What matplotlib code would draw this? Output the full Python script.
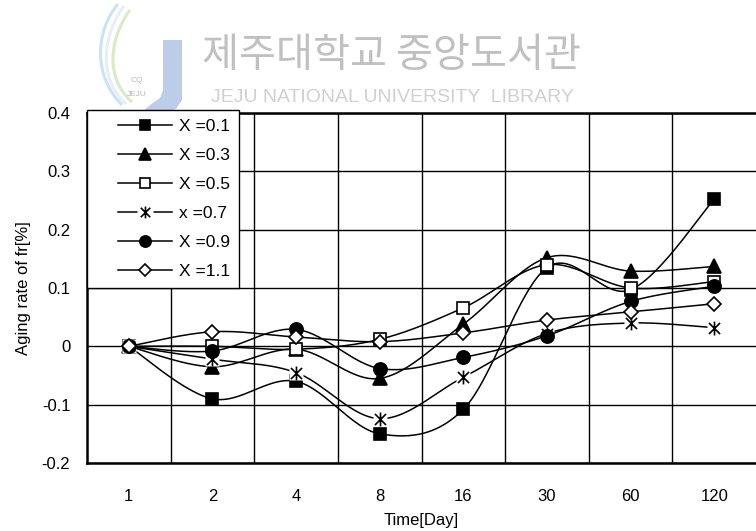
import matplotlib
matplotlib.use('Agg')
import matplotlib.pyplot as plt
import numpy as np
from matplotlib.path import Path
from matplotlib.patches import PathPatch
from matplotlib.lines import Line2D
from matplotlib.legend_handler import HandlerLine2D, HandlerTuple

plt.rcParams['font.family'] = ['Liberation Sans', 'DejaVu Sans']

# days of ageing (categories) and aging rate of fr [%] for each composition
days = ['1', '2', '4', '8', '16', '30', '60', '120']
x01 = [0, -0.090, -0.060, -0.150, -0.108, 0.135, 0.097, 0.252]
x03 = [0, -0.035, -0.005, -0.055, 0.038, 0.152, 0.129, 0.137]
x05 = [0, 0.000, -0.005, 0.012, 0.066, 0.140, 0.100, 0.111]
x07 = [0, -0.022, -0.045, -0.124, -0.053, 0.022, 0.040, 0.032]
x09 = [0, -0.008, 0.029, -0.038, -0.019, 0.018, 0.077, 0.103]
x11 = [0, 0.025, 0.016, 0.008, 0.023, 0.045, 0.059, 0.073]
labels = ['X =0.1', 'X =0.3', 'X =0.5', 'x =0.7', 'X =0.9', 'X =1.1']
y_ticks = [0.4, 0.3, 0.2, 0.1, 0, -0.1, -0.2]
y_ticklabels = ['0.4', '0.3', '0.2', '0.1', '0', '-0.1', '-0.2']


def smooth(xs, ys, n=30):
    # smoothed line through the points (cubic bezier, catmull-rom style)
    P = np.column_stack([xs, ys]).astype(float)
    out = []
    for i in range(len(P) - 1):
        p0 = P[max(i - 1, 0)]
        p1 = P[i]
        p2 = P[i + 1]
        p3 = P[min(i + 2, len(P) - 1)]
        c1 = p1 + (p2 - p0) / 6
        c2 = p2 - (p3 - p1) / 6
        t = np.linspace(0, 1, n)[:, None]
        seg = (1 - t)**3 * p1 + 3 * (1 - t)**2 * t * c1 + 3 * (1 - t) * t**2 * c2 + t**3 * p2
        out.append(seg if i == 0 else seg[1:])
    return np.vstack(out)


# asterisk marker: vertical bar plus an X
star = Path([(0, -1), (0, 1), (-0.8, -0.8), (0.8, 0.8), (-0.8, 0.8), (0.8, -0.8)],
            [Path.MOVETO, Path.LINETO] * 3)

W, H = 756, 531
fig = plt.figure(figsize=(W / 100, H / 100), dpi=100)

# watermark layer in pixel coordinates
wm = fig.add_axes([0, 0, 1, 1], zorder=0)
wm.set_xlim(0, W)
wm.set_ylim(H, 0)
wm.axis('off')
j_shape = Path([(163, 40), (182, 40), (182, 100), (176, 109), (162, 114), (140, 114),
                (150, 105), (160, 98), (163, 90), (163, 40)])
wm.add_patch(PathPatch(j_shape, facecolor='#bccde9', edgecolor='none'))
swoosh1 = Path([(118, 4), (96, 30), (92, 75), (122, 105)],
               [Path.MOVETO, Path.CURVE4, Path.CURVE4, Path.CURVE4])
swoosh2 = Path([(130, 10), (108, 40), (106, 80), (132, 102)],
               [Path.MOVETO, Path.CURVE4, Path.CURVE4, Path.CURVE4])
swoosh3 = Path([(124, 6), (102, 36), (98, 78), (126, 104)],
               [Path.MOVETO, Path.CURVE4, Path.CURVE4, Path.CURVE4])
wm.add_patch(PathPatch(swoosh1, facecolor='none', edgecolor='#c8e4f2', lw=2.2))
wm.add_patch(PathPatch(swoosh3, facecolor='none', edgecolor='#e8eef5', lw=2.2))
wm.add_patch(PathPatch(swoosh2, facecolor='none', edgecolor='#d9ebc6', lw=2.2))
wm.text(137, 80, 'CQ', fontsize=6, color='#b8b8b8', ha='center', va='center')
wm.text(137, 95, 'JEJU', fontsize=6, color='#b8b8b8', ha='center', va='center')
wm.text(391, 55, '제주대학교 중앙도서관', fontsize=29, color='#c0c0c0',
        family=['Noto Sans CJK KR', 'DejaVu Sans'], ha='center', va='center')
wm.text(392, 97, 'JEJU NATIONAL UNIVERSITY  LIBRARY', fontsize=14, color='#d0d0d0',
        ha='center', va='center')

ax = fig.add_axes([87 / W, 1 - 463 / H, (W - 87) / W, 350 / H], zorder=2)
ax.set_facecolor('white')

x = np.arange(len(days))
series = [x01, x03, x05, x07, x09, x11]
styles = [
    dict(marker='s', markersize=9, markerfacecolor='black'),
    dict(marker='^', markersize=9.5, markerfacecolor='black'),
    dict(marker='s', markersize=9, markerfacecolor='white'),
    dict(marker=star, markersize=10, markerfacecolor='none'),
    dict(marker='o', markersize=9.5, markerfacecolor='black'),
    dict(marker='D', markersize=7.5, markerfacecolor='white'),
]

handles = []
for k, (ys, st) in enumerate(zip(series, styles)):
    curve = smooth(x, ys)
    ax.plot(curve[:, 0], curve[:, 1], color='black', lw=1.1, zorder=3 + 2 * k)
    if st['marker'] is star:
        # white patch behind the asterisk breaks the lines under it
        ax.plot(x, ys, ls='none', marker='s', markersize=10, markerfacecolor='white',
                markeredgecolor='none', zorder=4 + 2 * k)
    ax.plot(x, ys, ls='none', markeredgecolor='black', markeredgewidth=1.2,
            zorder=4 + 2 * k, **st)
    # legend symbols are drawn a little smaller
    lst = dict(st)
    lst['markersize'] = st['markersize'] * 0.85
    h = Line2D([], [], color='black', lw=1.1, markeredgecolor='black',
               markeredgewidth=1.2, **lst)
    if st['marker'] is star:
        back = Line2D([], [], color='black', lw=1.1, marker='s', markersize=11,
                      markerfacecolor='white', markeredgecolor='none')
        h = (back, Line2D([], [], ls='none', markeredgecolor='black',
                          markeredgewidth=1.2, **lst))
    handles.append(h)

ax.set_xlim(-0.5, len(days) - 0.5)
ax.set_ylim(-0.2, 0.4)
ax.set_xticks(x)
ax.set_xticklabels(days)
ax.set_yticks(y_ticks)
ax.set_yticklabels(y_ticklabels)
ax.set_xticks(np.arange(len(days) - 1) + 0.5, minor=True)
ax.tick_params(which='both', length=0, labelsize=12)
ax.tick_params(axis='x', pad=19)
ax.tick_params(axis='y', pad=12)
ax.grid(True, axis='y', which='major', color='black', lw=1)
ax.grid(True, axis='x', which='minor', color='black', lw=1)
ax.set_axisbelow(True)
for side in ['left', 'top', 'bottom']:
    ax.spines[side].set_linewidth(1.8)
ax.spines['right'].set_visible(False)

ax.set_xlabel('Time[Day]', fontsize=12)
ax.xaxis.set_label_coords(0.5, -0.143)
ax.set_ylabel('Aging rate of fr[%]', fontsize=12)
ax.yaxis.set_label_coords(-0.083, 0.5)

leg = ax.legend(handles, labels, loc='upper left', bbox_to_anchor=(0, 1.008),
                borderaxespad=0, fontsize=12.5, handlelength=4.4, handletextpad=0.4,
                labelspacing=0.8, borderpad=0.5, fancybox=False, framealpha=1,
                edgecolor='black',
                handler_map={Line2D: HandlerLine2D(xpad=1.3),
                             tuple: HandlerTuple(ndivide=1, xpad=1.3)})
leg.get_frame().set_linewidth(1)
leg.set_zorder(30)

plt.savefig('out.png', dpi=100)
